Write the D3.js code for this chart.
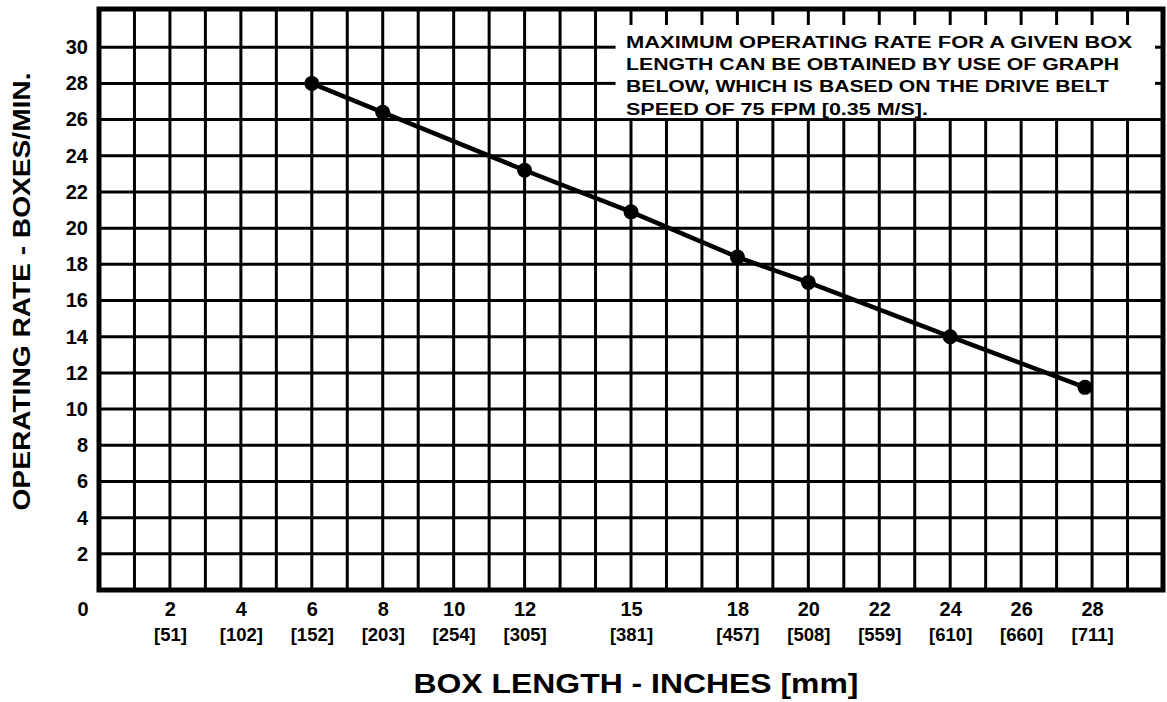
<!DOCTYPE html>
<html>
<head>
<meta charset="utf-8">
<script src="https://cdn.jsdelivr.net/npm/d3@7"></script>
<style>
  html, body { margin: 0; padding: 0; background: #fff; }
  svg { display: block; font-family: "Liberation Sans", Arial, Helvetica, sans-serif; }
</style>
</head>
<body>
<svg id="chart" width="1167" height="702"></svg>
<script>
// ---- data ----
const xTickValues = [2, 4, 6, 8, 10, 12, 15, 18, 20, 22, 24, 26, 28];
const xTickMM = ["[51]", "[102]", "[152]", "[203]", "[254]", "[305]", "[381]", "[457]", "[508]", "[559]", "[610]", "[660]", "[711]"];
const yTickValues = [2, 4, 6, 8, 10, 12, 14, 16, 18, 20, 22, 24, 26, 28, 30];
const boxLength = [6, 8, 12, 15, 18, 20, 24, 27.8];
const operatingRate = [28, 26.4, 23.2, 20.9, 18.4, 17.0, 14.0, 11.2];
const noteLines = [
  "MAXIMUM OPERATING RATE FOR A GIVEN BOX",
  "LENGTH CAN BE OBTAINED BY USE OF GRAPH",
  "BELOW, WHICH IS BASED ON THE DRIVE BELT",
  "SPEED OF 75 FPM [0.35 M/S]."
];
const xTitle = "BOX LENGTH - INCHES [mm]";
const yTitle = "OPERATING RATE - BOXES/MIN.";

// ---- scales ----
const svg = d3.select("#chart");
const x = d3.scaleLinear().domain([0, 30]).range([99, 1163]);
const y = d3.scaleLinear().domain([0, 32]).range([590, 11]);
const FONT = "'Liberation Sans', Arial, Helvetica, sans-serif";

const g = svg.append("g");

// grid
g.append("g").selectAll("line").data(d3.range(1, 30)).join("line")
  .attr("x1", d => x(d)).attr("x2", d => x(d))
  .attr("y1", y(0)).attr("y2", y(32))
  .attr("stroke", "#000").attr("stroke-width", 3);
g.append("g").selectAll("line").data(d3.range(2, 32, 2)).join("line")
  .attr("x1", x(0)).attr("x2", x(30))
  .attr("y1", d => y(d)).attr("y2", d => y(d))
  .attr("stroke", "#000").attr("stroke-width", 3);

// note box (blanks the grid)
g.append("rect")
  .attr("x", x(14) + 1.5).attr("y", y(32))
  .attr("width", x(30) - x(14) - 1.5).attr("height", y(26) - y(32) - 1.5)
  .attr("fill", "#fff");
// stubs on the note box
g.append("g").selectAll("line").data(d3.range(15, 30)).join("line")
  .attr("x1", d => x(d)).attr("x2", d => x(d))
  .attr("y1", y(32)).attr("y2", y(32) + 14)
  .attr("stroke", "#000").attr("stroke-width", 3);
g.append("g").selectAll("line").data([28, 30]).join("line")
  .attr("x1", x(14)).attr("x2", x(14) + 20)
  .attr("y1", d => y(d)).attr("y2", d => y(d))
  .attr("stroke", "#000").attr("stroke-width", 3);
g.append("g").selectAll("line").data([28, 30]).join("line")
  .attr("x1", x(30) - 8).attr("x2", x(30))
  .attr("y1", d => y(d)).attr("y2", d => y(d))
  .attr("stroke", "#000").attr("stroke-width", 3);

// note text
const noteWidths = [506, 493, 483, 302];
g.append("g").selectAll("text").data(noteLines).join("text")
  .attr("x", x(15) - 5)
  .attr("y", (d, i) => y(30) + 0.5 + i * 22.3)
  .attr("font-size", 16).attr("font-weight", "bold")
  .attr("textLength", (d, i) => noteWidths[i])
  .attr("lengthAdjust", "spacingAndGlyphs")
  .text(d => d);

// frame
g.append("rect")
  .attr("x", x(0)).attr("y", y(32) - 2)
  .attr("width", x(30) - x(0)).attr("height", y(0) - y(32) + 2)
  .attr("fill", "none").attr("stroke", "#000").attr("stroke-width", 5);

// y axis labels
const yAxis = d3.axisLeft(y).tickValues(yTickValues).tickSize(0).tickPadding(11);
const ya = g.append("g").attr("transform", `translate(${x(0)},0)`).call(yAxis);
ya.select(".domain").remove();
ya.selectAll("text").attr("font-size", 20).attr("font-weight", "bold")
  .attr("font-family", FONT).attr("fill", "#000");

// x axis labels
const xAxis = d3.axisBottom(x).tickValues(xTickValues).tickSize(0).tickPadding(12);
const xa = g.append("g").attr("transform", `translate(0,${y(0)})`).call(xAxis);
xa.select(".domain").remove();
xa.selectAll("text").attr("font-size", 20).attr("font-weight", "bold")
  .attr("font-family", FONT).attr("fill", "#000");
xa.selectAll(".tick").append("text")
  .attr("y", 38).attr("dy", "0.71em")
  .attr("fill", "#000").attr("font-size", 18.5).attr("font-weight", "bold")
  .attr("font-family", FONT)
  .attr("text-anchor", "middle")
  .text((d, i) => xTickMM[i]);
// origin label
g.append("text")
  .attr("x", x(0) - 16).attr("y", y(0) + 12).attr("dy", "0.71em")
  .attr("text-anchor", "middle").attr("font-size", 20).attr("font-weight", "bold")
  .attr("font-family", FONT)
  .text("0");

// data line + points
const pts = boxLength.map((b, i) => [b, operatingRate[i]]);
g.append("path")
  .datum(pts)
  .attr("d", d3.line().x(d => x(d[0])).y(d => y(d[1])))
  .attr("fill", "none").attr("stroke", "#000").attr("stroke-width", 4.5);
g.append("g").selectAll("circle").data(pts).join("circle")
  .attr("cx", d => x(d[0])).attr("cy", d => y(d[1])).attr("r", 7.5)
  .attr("fill", "#000");

// titles
g.append("text")
  .attr("x", (x(0) + x(30)) / 2 + 5).attr("y", 693)
  .attr("text-anchor", "middle").attr("font-size", 28).attr("font-weight", "bold")
  .attr("textLength", 445).attr("lengthAdjust", "spacingAndGlyphs")
  .text(xTitle);
g.append("text")
  .attr("transform", `translate(30,${(y(0) + y(32)) / 2 - 9}) rotate(-90)`)
  .attr("text-anchor", "middle").attr("font-size", 24).attr("font-weight", "bold")
  .attr("textLength", 438).attr("lengthAdjust", "spacingAndGlyphs")
  .text(yTitle);
</script>
</body>
</html>
